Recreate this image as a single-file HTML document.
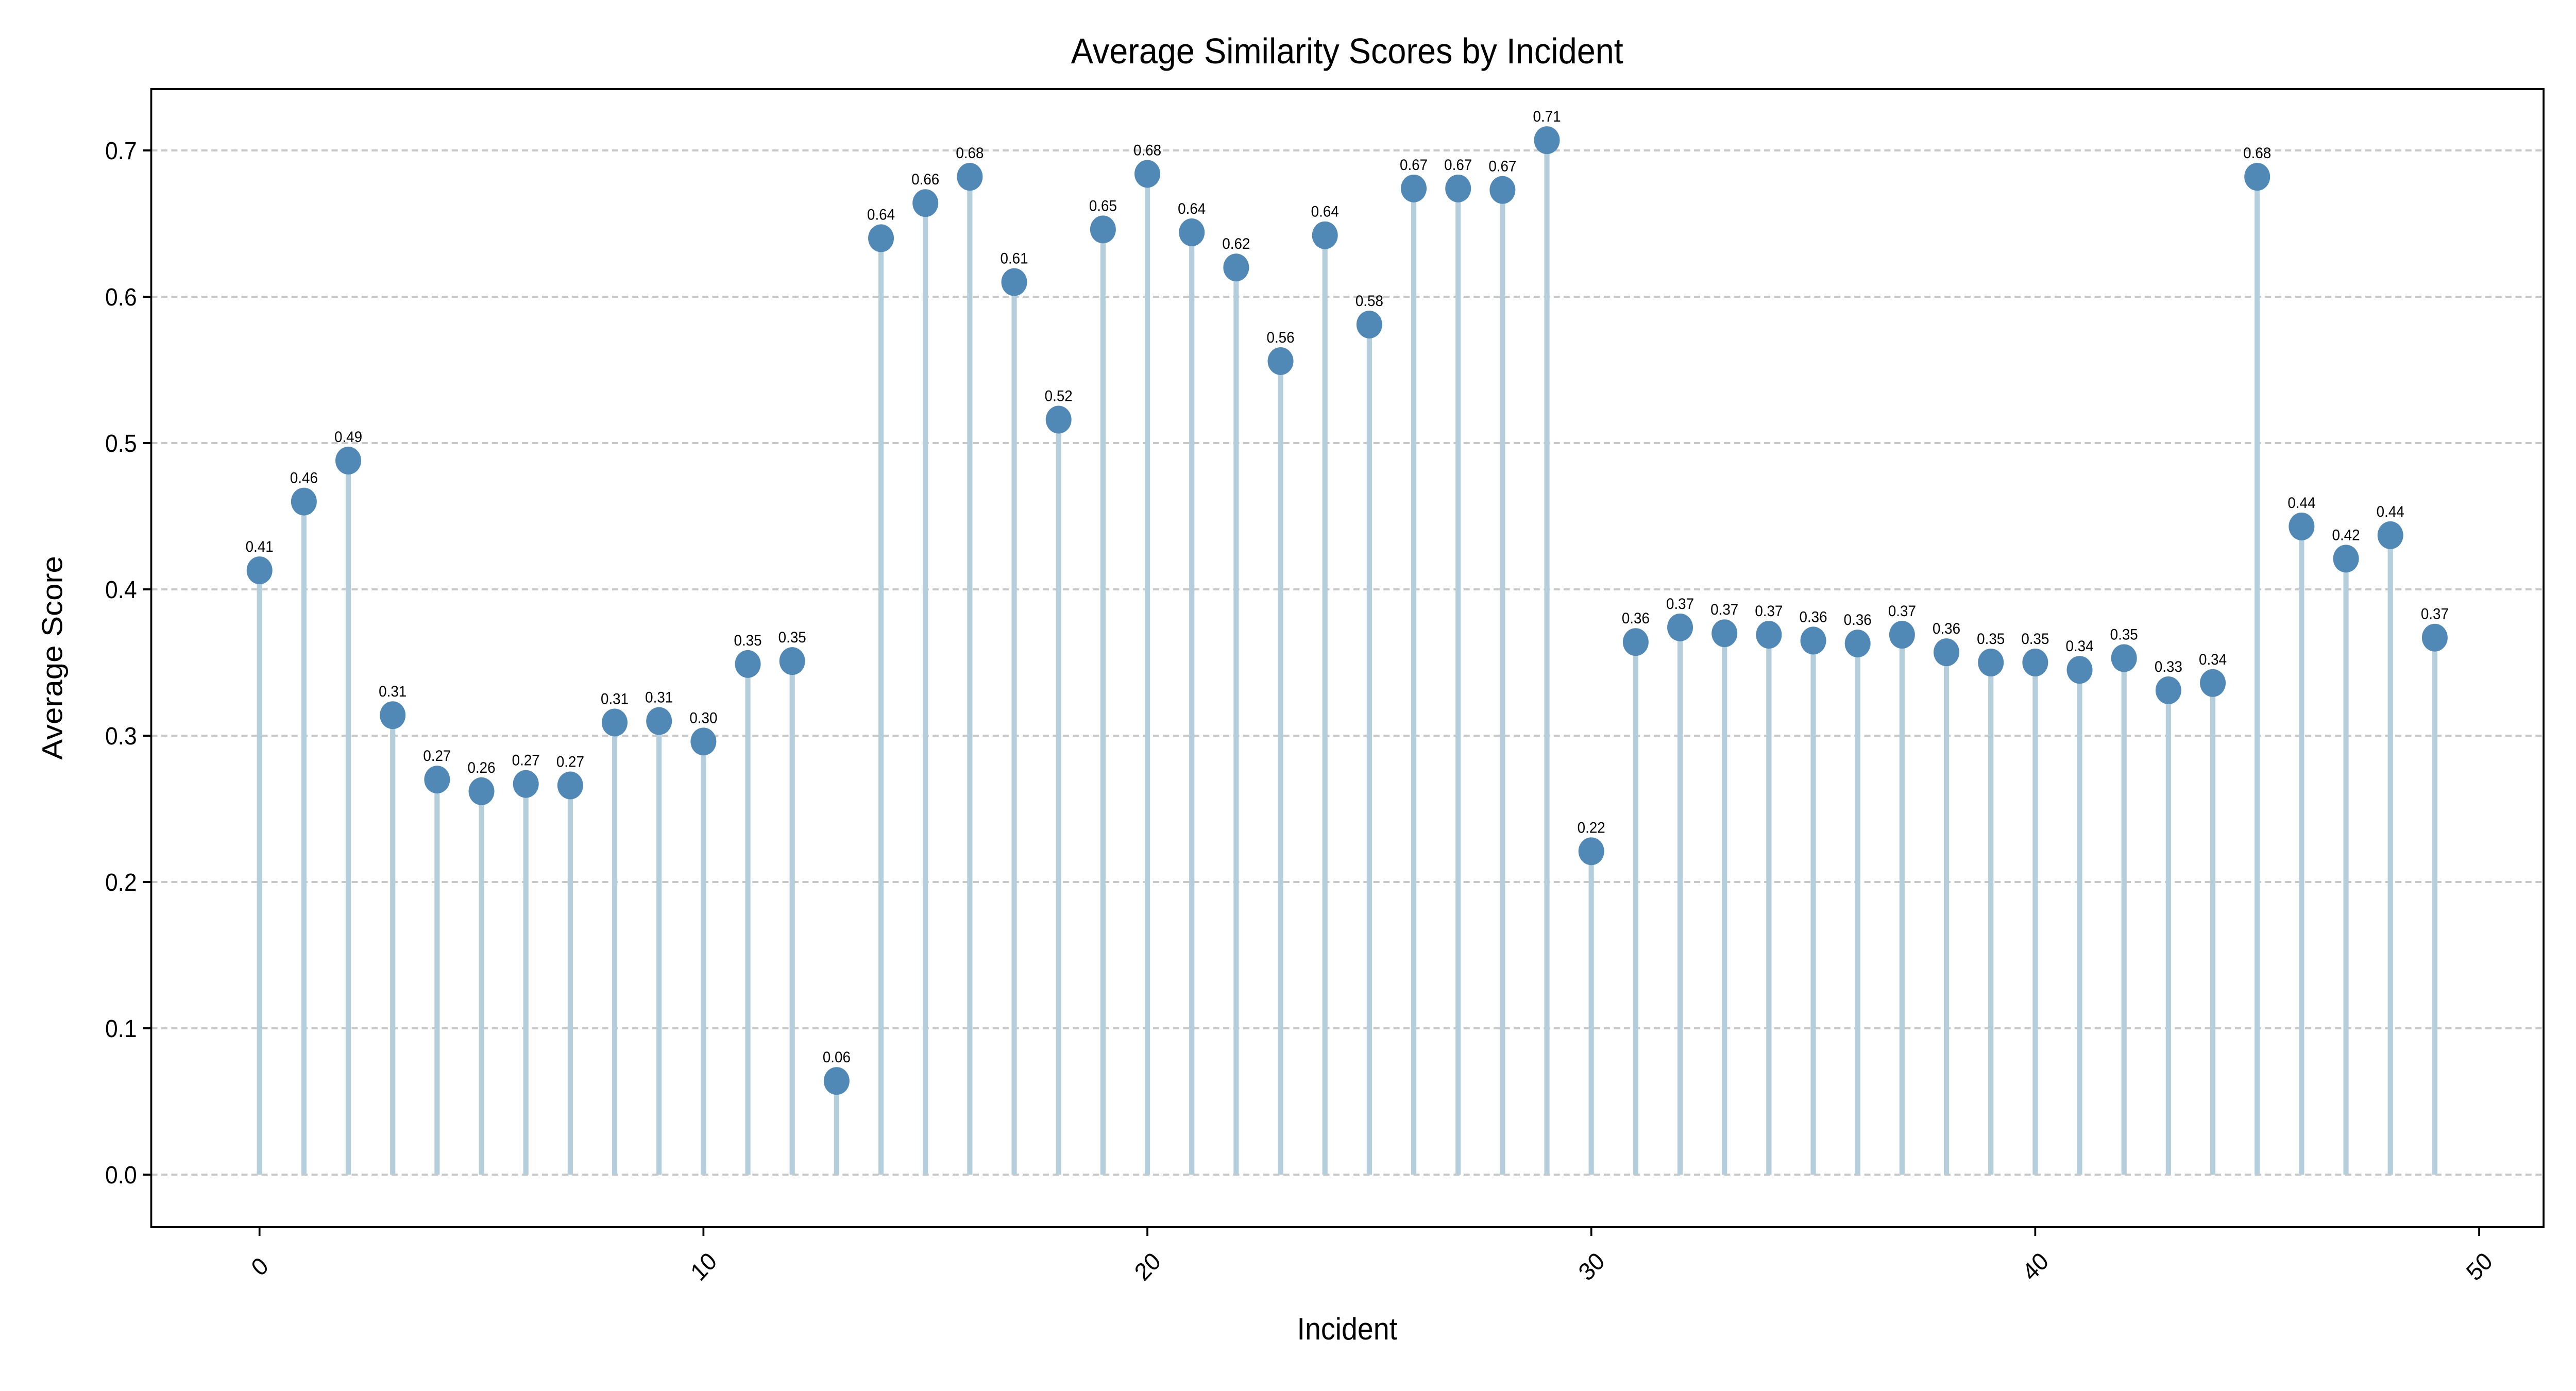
<!DOCTYPE html>
<html><head><meta charset="utf-8"><style>html,body{margin:0;padding:0;width:100%;height:100%;overflow:hidden;background:#fff}svg{display:block;width:100vw;height:100vh}</style></head>
<body>
<svg id="chart" viewBox="0 0 5400 2700" preserveAspectRatio="none" xmlns="http://www.w3.org/2000/svg" font-family="'Liberation Sans', 'DejaVu Sans', sans-serif">
<rect width="5400" height="2700" fill="#fff"/>
<text x="2824" y="123" font-size="70" text-anchor="middle">Average Similarity Scores by Incident</text>
<text x="2824" y="2600" font-size="60" text-anchor="middle">Incident</text>
<text x="130" y="1277" font-size="60" text-anchor="middle" transform="rotate(-90 130 1277)">Average Score</text>
<g id="grid"></g><g id="stems"></g><g id="marks"></g><g id="axes"></g>
</svg>
<script>
const incidents = Array.from({length:50},(_,i)=>i);
const scores = [0.413,0.46,0.488,0.314,0.27,0.262,0.267,0.266,0.309,0.31,0.296,0.349,0.351,0.064,0.64,0.664,0.682,0.61,0.516,0.646,0.684,0.644,0.62,0.556,0.642,0.581,0.674,0.674,0.673,0.707,0.221,0.364,0.374,0.37,0.369,0.365,0.363,0.369,0.357,0.35,0.35,0.345,0.353,0.331,0.336,0.682,0.443,0.421,0.437,0.367];
const yTicks = [0,0.1,0.2,0.3,0.4,0.5,0.6,0.7];
const xTicks = [0,10,20,30,40,50];

const NS='http://www.w3.org/2000/svg';
const L=317,R=5332,T=173,B=2382;
const x=v=>544+(5197-544)*v/50;
const y=v=>2280-(2280-292)*v/0.7;
function mk(tag,attrs,parent){const e=document.createElementNS(NS,tag);for(const k in attrs)e.setAttribute(k,attrs[k]);parent.appendChild(e);return e;}
const grid=document.getElementById('grid'),stems=document.getElementById('stems'),marks=document.getElementById('marks'),axes=document.getElementById('axes');

yTicks.forEach(t=>{
  const g=mk('line',{x1:L,x2:R,y1:y(t),y2:y(t),stroke:'#c8c8c8','stroke-width':4,'stroke-dasharray':'13,8'},grid);
  
  
  const tk=mk('line',{x1:L-17,x2:L,y1:y(t),y2:y(t),stroke:'#000','stroke-width':4},axes);
  
  
  const lb=mk('text',{x:L-30,y:y(t)+17,'font-size':48,'text-anchor':'end'},axes);
  lb.textContent=t.toFixed(1);
  
  
});
xTicks.forEach(t=>{
  const tk=mk('line',{x1:x(t),x2:x(t),y1:B,y2:B+17,stroke:'#000','stroke-width':4},axes);
  
  
  const cx=x(t),cy=2458;
  const lb=mk('text',{x:cx,y:cy+17,'font-size':48,'text-anchor':'middle',transform:`rotate(-45 ${cx} ${cy})`},axes);
  lb.textContent=String(t);
  
  
});
incidents.forEach((c,i)=>{
  const v=scores[i];
  const s=mk('line',{x1:x(c),x2:x(c),y1:y(0),y2:y(v),stroke:'#b4cedb','stroke-width':11},stems);
  
  
  const p=mk('circle',{cx:x(c),cy:y(v),r:27,fill:'#5088b6'},marks);
  
  
  const t=mk('text',{x:x(c),y:y(v)-36,'font-size':30,'text-anchor':'middle'},marks);
  t.textContent=v.toFixed(2);
  
  
});
const fr=mk('rect',{x:L,y:T,width:R-L,height:B-T,fill:'none',stroke:'#000','stroke-width':4},axes);


</script>
</body></html>
